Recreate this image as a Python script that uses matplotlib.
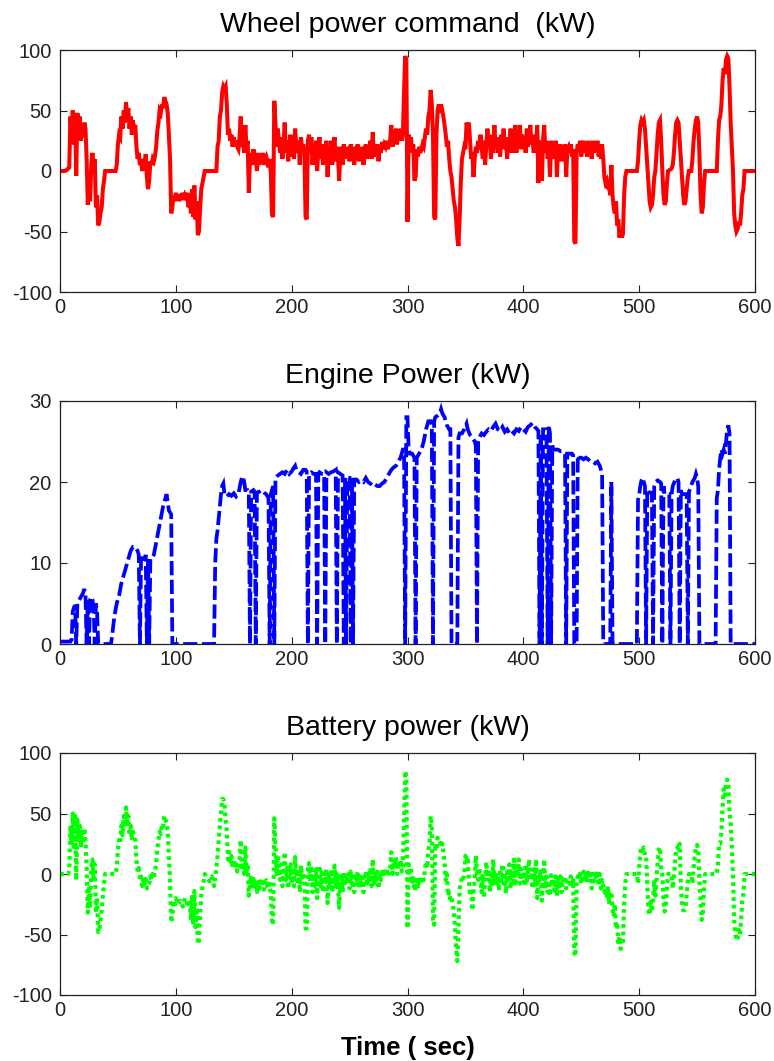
import matplotlib
matplotlib.use("Agg")
import matplotlib.pyplot as plt
import numpy as np

# ---------------------------------------------------------------------------
# Drive-cycle power traces, (time [s], power [kW]) breakpoints
# ---------------------------------------------------------------------------
wheel_points = [
    (0, 0), (4, 0), (6, 1), (8, 3), (9, 45), (10, 30), (11, 50), (12, 22), (13, 48), (14, -4),
    (15, 48), (16, 35), (17, 45), (18, 25), (19, 35), (20, 28), (21, 40), (22, 35), (23, 10),
    (24, -28), (25, -5), (26, -25), (27, 5), (28, 15), (29, 0), (30, 10), (31, -30), (32, -20),
    (33, -45), (34, -42), (35, -35), (36, -30), (37, -15), (38, -8), (39, 0), (48, 0), (49, 5),
    (50, 22), (51, 30), (52, 28), (53, 45), (54, 35), (55, 50), (56, 40), (57, 57), (58, 45),
    (59, 52), (60, 35), (61, 45), (62, 30), (63, 42), (64, 33), (65, 38), (66, 20), (67, 10),
    (68, 15), (69, 5), (70, 8), (71, 0), (72, 10), (73, 2), (74, 14), (75, -5), (76, -15),
    (77, -8), (78, 8), (79, 5), (80, 10), (81, 8), (82, 12), (83, 20), (84, 33), (85, 40),
    (86, 50), (87, 48), (88, 55), (89, 52), (90, 61), (91, 58), (92, 55), (93, 48), (94, 30),
    (95, 10), (96, -35), (97, -30), (98, -20), (99, -25), (100, -18), (101, -24), (102, -20),
    (103, -25), (104, -19), (105, -23), (106, -18), (107, -24), (108, -20), (109, -22),
    (110, -18), (111, -30), (112, -20), (113, -35), (114, -15), (115, -38), (116, -12),
    (117, -40), (118, -25), (119, -53), (120, -50), (121, -30), (122, -15), (123, -10),
    (124, -5), (125, 0), (135, 0), (136, 20), (137, 25), (138, 45), (139, 50), (140, 65),
    (141, 70), (142, 68), (143, 70), (144, 55), (145, 30), (146, 35), (147, 25), (148, 30),
    (149, 20), (150, 28), (151, 22), (152, 25), (153, 20), (154, 18), (155, 28), (156, 45),
    (157, 20), (158, 25), (159, 15), (160, 38), (161, 18), (162, 25), (163, -18), (164, 10),
    (165, 15), (166, 5), (167, 18), (168, 8), (169, 12), (170, 0), (171, 15), (172, 5),
    (173, 12), (174, 8), (175, 15), (176, 5), (177, 10), (178, 12), (179, 8), (180, 3),
    (181, 10), (182, -2), (183, -36), (184, -38), (185, 58), (186, 40), (187, 20), (188, 35),
    (189, 25), (190, 15), (191, 28), (192, 10), (193, 22), (194, 40), (195, 15), (196, 25),
    (197, 8), (198, 20), (199, 30), (200, 12), (201, 25), (202, 10), (203, 35), (204, 20),
    (205, 15), (206, 25), (207, 5), (208, 28), (209, 18), (210, 22), (211, 15), (212, -38),
    (213, -40), (214, 25), (215, 30), (216, 15), (217, 28), (218, 5), (219, 20), (220, 10),
    (221, 25), (222, 0), (223, 18), (224, 28), (225, 10), (226, 22), (227, 5), (228, 20),
    (229, 15), (230, 25), (231, -5), (232, 20), (233, 10), (234, 25), (235, 5), (236, 18),
    (237, 28), (238, 8), (239, 20), (240, 12), (241, -8), (242, 15), (243, 20), (244, 5),
    (245, 22), (246, 10), (247, 18), (248, 15), (249, 20), (250, 8), (251, 22), (252, 12),
    (253, 18), (254, 5), (255, 20), (256, 15), (257, 22), (258, 8), (259, 18), (260, 12),
    (261, 20), (262, 5), (263, 18), (264, 22), (265, 10), (266, 20), (267, 15), (268, 25),
    (269, 10), (270, 32), (271, 12), (272, 20), (273, 15), (274, 22), (275, 8), (276, 20),
    (277, 15), (278, 24), (279, 18), (280, 22), (281, 20), (282, 25), (283, 18), (284, 22),
    (285, 25), (286, 38), (287, 20), (288, 30), (289, 25), (290, 35), (291, 22), (292, 32),
    (293, 28), (294, 35), (295, 25), (296, 30), (297, 65), (298, 95), (299, 92), (300, -42),
    (301, 30), (302, 25), (303, 28), (304, 15), (305, 22), (306, -8), (307, -5), (308, 18),
    (309, 12), (310, 20), (311, 15), (312, 18), (313, 22), (314, 20), (315, 28), (316, 35),
    (317, 30), (318, 45), (319, 50), (320, 67), (321, 55), (322, 30), (323, -38), (324, -40),
    (325, 30), (326, 50), (327, 55), (328, 48), (329, 55), (330, 50), (331, 45), (332, 38),
    (333, 30), (334, 20), (335, 25), (336, 10), (337, 0), (338, -5), (339, -15), (340, -25),
    (341, -30), (342, -40), (343, -55), (344, -62), (345, -40), (346, -10), (347, 10),
    (348, 15), (349, 20), (350, 18), (351, 40), (352, 35), (353, 40), (354, 25), (355, 10),
    (356, 15), (357, -5), (358, 10), (359, 20), (360, 15), (361, 25), (362, 18), (363, 30),
    (364, 20), (365, 10), (366, 25), (367, 5), (368, 20), (369, 35), (370, 22), (371, 30),
    (372, 10), (373, 25), (374, 15), (375, 38), (376, 20), (377, 28), (378, 15), (379, 25),
    (380, 12), (381, 30), (382, 20), (383, 35), (384, 18), (385, 25), (386, 10), (387, 28),
    (388, 22), (389, 35), (390, 15), (391, 28), (392, 20), (393, 38), (394, 15), (395, 30),
    (396, 25), (397, 38), (398, 18), (399, 30), (400, 22), (401, 28), (402, 15), (403, 35),
    (404, 20), (405, 28), (406, 38), (407, 22), (408, 25), (409, 15), (410, 30), (411, 20),
    (412, 38), (413, -10), (414, 25), (415, 20), (416, -8), (417, 25), (418, 38), (419, 15),
    (420, 25), (421, 10), (422, 20), (423, -5), (424, 25), (425, 15), (426, 22), (427, 10),
    (428, 25), (429, -5), (430, 20), (431, 12), (432, 22), (433, 8), (434, 20), (435, 15),
    (436, 22), (437, -5), (438, 18), (439, 20), (440, 15), (441, 22), (442, 12), (443, 18),
    (444, -58), (445, -60), (446, 15), (447, 22), (448, 18), (449, 25), (450, 12), (451, 20),
    (452, 25), (453, 15), (454, 22), (455, 12), (456, 25), (457, 18), (458, 22), (459, 10),
    (460, 25), (461, 15), (462, 22), (463, 18), (464, 25), (465, 12), (466, 22), (467, 10),
    (468, 22), (469, 10), (470, -5), (471, -10), (472, -8), (473, -15), (474, -12), (475, -20),
    (476, 5), (477, -20), (478, -30), (479, -35), (480, -25), (481, -45), (482, -40),
    (483, -55), (484, -50), (485, -55), (486, -52), (487, -20), (488, -5), (489, 0), (498, 0),
    (499, 8), (500, 25), (501, 38), (502, 42), (503, 40), (504, 42), (505, 35), (506, 20),
    (507, 5), (508, -10), (509, -25), (510, -30), (511, -28), (512, -20), (513, -5), (514, 0),
    (515, 15), (516, 30), (517, 40), (518, 42), (519, 25), (520, 0), (521, -20), (522, -28),
    (523, -25), (524, -10), (525, 0), (528, 2), (529, 5), (530, 15), (531, 30), (532, 40),
    (533, 42), (534, 40), (535, 25), (536, 10), (537, -5), (538, -20), (539, -28), (540, -25),
    (541, -15), (542, -5), (543, 0), (545, 0), (546, 10), (547, 25), (548, 35), (549, 42),
    (550, 45), (551, 40), (552, 15), (553, -20), (554, -35), (555, -30), (556, -10), (557, 0),
    (567, 0), (568, 25), (569, 42), (570, 45), (571, 55), (572, 75), (573, 85), (574, 80),
    (575, 92), (576, 95), (577, 93), (578, 70), (579, 40), (580, 20), (581, 0), (582, -35),
    (583, -45), (584, -50), (585, -48), (586, -42), (587, -45), (588, -35), (589, -20),
    (590, -15), (591, 0), (600, 0),
]

engine_points = [
    (0, 0.3), (9, 0.3), (10, 0.5), (11, 4), (12, 4.5), (13, 4.8), (14, 0), (15, 5), (16, 5.3),
    (18, 5.8), (20, 6.3), (21, 6.8), (22, 6), (23, 0), (24, 5.5), (25, 0), (26, 5.5), (27, 5.8),
    (28, 5.5), (29, 4.5), (30, 0), (31, 5), (32, 4), (33, 0), (44, 0), (45, 1), (47, 3.5),
    (49, 5), (51, 6), (53, 7.5), (55, 8.5), (57, 9.5), (59, 10.5), (61, 11.5), (63, 12),
    (65, 12), (67, 11.5), (68, 11), (69, 0), (70, 11), (71, 10.5), (73, 10.5), (74, 11),
    (75, 0), (76, 10.5), (77, 0), (78, 10.5), (79, 10.5), (81, 11), (83, 12.5),
    (85, 14), (87, 15.5), (89, 17), (91, 18), (92, 18.5), (93, 17.5), (94, 16.5), (96, 16),
    (97, 0), (133, 0), (134, 10), (135, 13), (136, 14), (137, 15.5), (138, 17), (139, 18.5),
    (140, 19.5), (141, 19.8), (142, 18.5), (144, 18.2), (146, 18.5), (148, 18.3), (150, 18.6),
    (152, 18.2), (154, 18.5), (156, 20), (157, 20.5), (158, 20.7), (159, 20), (160, 19),
    (162, 19), (163, 18.8), (164, 0), (165, 18.8), (167, 19), (168, 18.8), (169, 0),
    (170, 18.7), (172, 18.8), (174, 19), (176, 18.7), (178, 18.5), (180, 18),
    (181, 0), (182, 18.5), (184, 19.5), (185, 0), (186, 20.5), (188, 20.8),
    (190, 21), (192, 21.2), (194, 21), (196, 21.5), (198, 21), (200, 21.3), (202, 21.8),
    (203, 22), (204, 21.5), (206, 21.2), (208, 21), (210, 21.5), (212, 21.5), (213, 21.3),
    (214, 0), (215, 21), (217, 21.2), (219, 21), (221, 21), (222, 0), (223, 21), (224, 21.2),
    (226, 21), (228, 21), (229, 0), (230, 21.2), (232, 21), (234, 21.2),
    (236, 21.3), (238, 21.5), (239, 0), (240, 21.2), (242, 21), (244, 20.8),
    (245, 0), (246, 20.5), (247, 0), (248, 20.5), (250, 20.5), (251, 0), (252, 20.5),
    (253, 0), (254, 20.3), (256, 20.3), (258, 20), (260, 20.2), (262, 20), (264, 20.5),
    (266, 20), (268, 19.8), (270, 19.5), (272, 19.7), (274, 19.5), (276, 19.5), (278, 19.8),
    (280, 20), (282, 20.5), (284, 21), (286, 21.5), (288, 21.8), (290, 22), (292, 22.5),
    (294, 23), (296, 24), (297, 24), (298, 0), (299, 28), (300, 28), (301, 24), (302, 23.5),
    (304, 23.5), (306, 23), (307, 0), (308, 23), (310, 23.5), (312, 24), (314, 25),
    (316, 26.5), (318, 27.5), (320, 27.5), (321, 27), (322, 0), (323, 27.5), (324, 28),
    (326, 28.2), (328, 28.5), (329, 29), (330, 28.5), (332, 28), (333, 27.5), (334, 27),
    (336, 26.5), (337, 26.5), (338, 0), (343, 0), (344, 25.5), (345, 26), (347, 26),
    (349, 26.5), (351, 27.2), (352, 26.5), (354, 25.8), (356, 25.5), (358, 25), (359, 24.5),
    (360, 0), (361, 25), (362, 25.5), (364, 26), (366, 25.8), (368, 26.2), (370, 26.5),
    (372, 26.3), (374, 26.8), (376, 27.2), (378, 26.5), (380, 26.3), (382, 26.8), (384, 26.2),
    (386, 26.5), (388, 26), (390, 26.3), (392, 26), (394, 26.5), (396, 26.3), (398, 26.8),
    (400, 26.5), (402, 26.2), (404, 26.8), (406, 27), (408, 27.3), (410, 26.8), (412, 26.5),
    (413, 26.3), (414, 0), (415, 26), (416, 0), (417, 26.5), (419, 26.5),
    (420, 25.5), (421, 0), (422, 27), (423, 26), (424, 0), (425, 24.5), (426, 24), (428, 24),
    (430, 24), (432, 23.8), (434, 23.8), (436, 23.5), (437, 0), (438, 23.5),
    (440, 23.5), (442, 23.5), (443, 23.3), (444, 0), (446, 0), (447, 23.3),
    (448, 23), (450, 23), (452, 22.8), (454, 23), (456, 22.8), (458, 22.5), (460, 22.5),
    (462, 22.3), (464, 22.5), (466, 22), (467, 21.5), (468, 21), (469, 0), (475, 0),
    (476, 20), (477, 0), (498, 0), (499, 17.8), (500, 18.5), (501, 19.5), (502, 20.2),
    (503, 20.5), (504, 20), (505, 19.5), (506, 0), (507, 19), (508, 18.7), (510, 18.7),
    (511, 18.6), (512, 0), (513, 19.5), (514, 20), (516, 20.2), (518, 20), (519, 19.8),
    (520, 0), (521, 19.5), (522, 18.5), (524, 18.5), (526, 18.5), (527, 0), (528, 18.5),
    (529, 19.5), (531, 20.2), (533, 20.5), (534, 20), (535, 0), (536, 19), (537, 18.5),
    (539, 18.5), (541, 18.5), (542, 0), (543, 18.8), (544, 19.2), (546, 20), (548, 20.5),
    (549, 21), (550, 20.5), (551, 19.5), (552, 0), (566, 0), (567, 18), (568, 19),
    (569, 21.5), (570, 23), (571, 24), (572, 23.5), (573, 24), (574, 23.5), (575, 25),
    (576, 26.5), (577, 27), (578, 26), (579, 0), (600, 0),
]

battery_points = [
    (0, 0), (7, 0), (8, 3), (9, 40), (10, 25), (11, 50), (12, 20), (13, 48), (14, -5), (15, 45),
    (16, 30), (17, 40), (18, 22), (19, 35), (20, 25), (21, 38), (22, 28), (23, 5), (24, -32),
    (25, -10), (26, -28), (27, 5), (28, 12), (29, -3), (30, 8), (31, -30), (32, -20), (33, -48),
    (34, -45), (35, -38), (36, -30), (37, -18), (38, -8), (39, 0), (48, 0), (49, 5), (50, 20),
    (51, 28), (52, 25), (53, 40), (54, 32), (55, 48), (56, 38), (57, 55), (58, 40), (59, 48),
    (60, 32), (61, 40), (62, 28), (63, 35), (64, 30), (65, 28), (66, 12), (67, 2), (68, 5),
    (69, -5), (70, -2), (71, -10), (72, -3), (73, -8), (74, -4), (75, -12), (76, -10), (77, -8),
    (78, -2), (79, -5), (80, 0), (81, -3), (82, 2), (83, 8), (84, 20), (85, 28), (86, 35),
    (87, 33), (88, 40), (89, 38), (90, 48), (91, 45), (92, 42), (93, 35), (94, 15), (95, -5),
    (96, -40), (97, -35), (98, -22), (99, -28), (100, -20), (102, -25), (104, -22), (106, -27),
    (108, -20), (110, -25), (112, -22), (113, -38), (114, -17), (115, -42), (116, -14),
    (117, -44), (118, -28), (119, -58), (120, -55), (121, -33), (122, -17), (123, -11),
    (124, -6), (125, 0), (127, -3), (129, -6), (131, -2), (133, -10), (135, 5), (136, 15),
    (137, 28), (138, 40), (139, 50), (140, 62), (141, 62), (142, 58), (143, 45), (144, 35),
    (145, 12), (146, 18), (147, 8), (148, 15), (149, 5), (150, 12), (151, 5), (152, 8),
    (153, 2), (154, 5), (155, 12), (156, 28), (157, 3), (158, 10), (159, 0), (160, 22),
    (161, 0), (162, 8), (163, -18), (164, -8), (165, -3), (166, -12), (167, -2), (168, -10),
    (169, -6), (170, -15), (171, -4), (172, -12), (173, -6), (174, -10), (175, -4), (176, -13),
    (177, -8), (178, -5), (179, -10), (180, -12), (181, -8), (182, -18), (183, -40), (184, -42),
    (185, 46), (186, 22), (187, 0), (188, 15), (189, 5), (190, -5), (191, 8), (192, -10),
    (193, 0), (194, 18), (195, -5), (196, 5), (197, -12), (198, 0), (199, 8), (200, -8),
    (201, 5), (202, -10), (203, 14), (204, -2), (205, -6), (206, 4), (207, -15), (208, 7),
    (209, -3), (210, 1), (211, -6), (212, -45), (213, -45), (214, 4), (215, 9), (216, -6),
    (217, 7), (218, -15), (219, 0), (220, -10), (221, 4), (222, -20), (223, -2), (224, 7),
    (225, -10), (226, 1), (227, -15), (228, 0), (229, -5), (230, 4), (231, -24), (232, 0),
    (233, -10), (234, 4), (235, -15), (236, -2), (237, 7), (238, -12), (239, 0), (240, -8),
    (241, -28), (242, -5), (243, 0), (244, -15), (245, 2), (246, -10), (247, -2), (248, -5),
    (249, 0), (250, -12), (251, 2), (252, -8), (253, -2), (254, -15), (255, 0), (256, -5),
    (257, 2), (258, -12), (259, -2), (260, -8), (261, 0), (262, -15), (263, -2), (264, 2),
    (265, -10), (266, 0), (267, -5), (268, 5), (269, -10), (270, 12), (271, -8), (272, 0),
    (273, -5), (274, 2), (275, -12), (276, 0), (277, -5), (278, 4), (279, -2), (280, 2),
    (281, 0), (282, 5), (283, -2), (284, 2), (285, 4), (286, 18), (287, 0), (288, 10),
    (289, 5), (290, 14), (291, 0), (292, 10), (293, 5), (294, 12), (295, 2), (296, 6),
    (297, 45), (298, 85), (299, 80), (300, -45), (301, 8), (302, 2), (303, 5), (304, -8),
    (305, -2), (306, -14), (307, -10), (308, -5), (309, -12), (310, -3), (311, -8), (312, -5),
    (313, -2), (314, -5), (315, 3), (316, 10), (317, 5), (318, 20), (319, 25), (320, 48),
    (321, 40), (322, -38), (323, -42), (324, 25), (325, 20), (326, 30), (327, 28), (328, 28),
    (329, 22), (330, 25), (331, 18), (332, 10), (333, -5), (334, 0), (335, -18), (336, -15),
    (337, -22), (338, -20), (339, -25), (340, -30), (341, -45), (342, -62), (343, -72),
    (344, -45), (345, -12), (346, -8), (347, -3), (348, -5), (349, 0), (350, 15), (351, 10),
    (352, 14), (353, -5), (354, -18), (355, -12), (356, -30), (357, -15), (358, -5), (359, 15),
    (360, 0), (361, -5), (362, 5), (363, -5), (364, -15), (365, 0), (366, -20), (367, -5),
    (368, 10), (369, -3), (370, 4), (371, -15), (372, 0), (373, -10), (374, 12), (375, -6),
    (376, 2), (377, -10), (378, -2), (379, -14), (380, 4), (381, -6), (382, 8), (383, -8),
    (384, -2), (385, -16), (386, 2), (387, -4), (388, 8), (389, -12), (390, 2), (391, -6),
    (392, 12), (393, -10), (394, 4), (395, -2), (396, 12), (397, -8), (398, 4), (399, -5),
    (400, 2), (401, -10), (402, 8), (403, -6), (404, 2), (405, 12), (406, -4), (407, -1),
    (408, -12), (409, 4), (410, -6), (411, 12), (412, -20), (413, -2), (414, -5), (415, 4),
    (416, -22), (417, -2), (418, 12), (419, -12), (420, -2), (421, -15), (422, -6), (423, -18),
    (424, -1), (425, -10), (426, -4), (427, -14), (428, -2), (429, -18), (430, -4), (431, -12),
    (432, -2), (433, -15), (434, -4), (435, -8), (436, -2), (437, -12), (438, -5), (439, -4),
    (440, -8), (441, -2), (442, -10), (443, -5), (444, -65), (445, -68), (446, -8), (447, -2),
    (448, -5), (449, 2), (450, -8), (451, -2), (452, 2), (453, -6), (454, 0), (455, -8),
    (456, 3), (457, -4), (458, 0), (459, -12), (460, 3), (461, -6), (462, -1), (463, -4),
    (464, 3), (465, -10), (466, 0), (467, -12), (468, -5), (469, -10), (470, -15), (471, -12),
    (472, -20), (473, -10), (474, -25), (475, -15), (476, -15), (477, -28), (478, -35),
    (479, -25), (480, -45), (481, -40), (482, -58), (483, -52), (484, -62), (485, -55),
    (486, -58), (487, -25), (488, -8), (489, 0), (498, 0), (499, -8), (500, 5), (501, 18),
    (502, 22), (503, 20), (504, 22), (505, 15), (506, 15), (507, -10), (508, -30), (509, -34),
    (510, -23), (511, -31), (512, -22), (513, -5), (514, -18), (515, -5), (516, 10), (517, 20),
    (518, 22), (519, 5), (520, 0), (521, -22), (522, -31), (523, -28), (524, -11), (525, 0),
    (528, 0), (529, -12), (530, -3), (531, 10), (532, 20), (533, 22), (534, 20), (535, 25),
    (536, -10), (537, -23), (538, -30), (539, -30), (540, -28), (541, -17), (542, -6), (543, 0),
    (545, 0), (546, -8), (547, 5), (548, 15), (549, 22), (550, 24), (551, 20), (552, -5),
    (553, -22), (554, -38), (555, -33), (556, -11), (557, 0), (567, 0), (568, 8), (569, 25),
    (570, 25), (571, 35), (572, 55), (573, 70), (574, 65), (575, 75), (576, 78), (577, 75),
    (578, 50), (579, 44), (580, 22), (581, 0), (582, -38), (583, -50), (584, -55), (585, -53),
    (586, -46), (587, -50), (588, -38), (589, -22), (590, -16), (591, 0), (600, 0),
]

x_ticks = [0, 100, 200, 300, 400, 500, 600]
power_ticks = [-100, -50, 0, 50, 100]
engine_ticks = [0, 10, 20, 30]

titles = ["Wheel power command  (kW)", "Engine Power (kW)", "Battery power (kW)"]
x_label = "Time ( sec)"


def unpack(points):
    t, v = zip(*points)
    return np.asarray(t, dtype=float), np.asarray(v, dtype=float)


plt.rcParams["font.family"] = ["Liberation Sans", "DejaVu Sans"]
plt.rcParams["axes.unicode_minus"] = False

fig = plt.figure(figsize=(7.74, 10.61), dpi=100)
W, H = 774.0, 1061.0


def panel(top_px, bottom_px):
    left, right = 60.0, 755.0
    return fig.add_axes([left / W, 1 - bottom_px / H, (right - left) / W,
                         (bottom_px - top_px) / H])


ax_wheel = panel(50, 292)
ax_engine = panel(401, 644)
ax_batt = panel(753, 995)

t, v = unpack(wheel_points)
ax_wheel.plot(t, v, color=(1, 0, 0), lw=2.9, solid_joinstyle="miter")

t, v = unpack(engine_points)
ax_engine.plot(t, v, color=(0, 0, 1), lw=2.7, linestyle=(0, (3.8, 1.2)),
               dash_capstyle="butt", dash_joinstyle="miter")

t, v = unpack(battery_points)
ax_batt.plot(t, v, color=(0, 1, 0), lw=3.0, linestyle=(0, (0.9, 0.9)),
             dash_capstyle="butt")

for ax, title, yticks in zip((ax_wheel, ax_engine, ax_batt), titles,
                             (power_ticks, engine_ticks, power_ticks)):
    ax.set_xlim(0, 600)
    ax.set_ylim(yticks[0], yticks[-1])
    ax.set_xticks(x_ticks)
    ax.set_yticks(yticks)
    ax.tick_params(direction="in", length=5, width=0.8, top=True, right=True,
                   labelsize=14.5, colors="#222222")
    ax.tick_params(axis="x", pad=4)
    ax.tick_params(axis="y", pad=6)
    for s in ax.spines.values():
        s.set_linewidth(0.9)
        s.set_color("#222222")
    ax.set_title(title, fontsize=20.5, pad=13)

ax_batt.set_xlabel(x_label, fontsize=18.5, fontweight="bold")
ax_batt.xaxis.set_label_coords(0.5, -(1055 - 995) / 242.0)
ax_batt.xaxis.label.set_va("baseline")

fig.savefig("out.png", dpi=100)
